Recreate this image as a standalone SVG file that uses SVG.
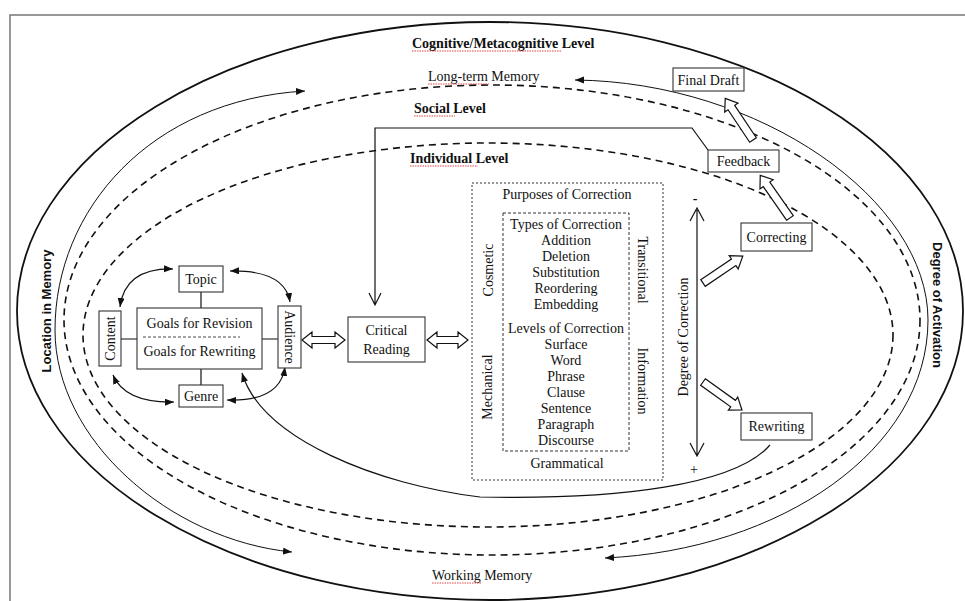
<svg xmlns="http://www.w3.org/2000/svg" width="965" height="601" viewBox="0 0 965 601">
<defs>
<style>
.t{font-family:"Liberation Serif","Times New Roman",serif;font-size:14px;fill:#111}
.b{font-weight:bold}
.s{font-family:"Liberation Sans",Arial,sans-serif;font-size:13px;font-weight:bold;fill:#111}
.m{text-anchor:middle}
.box{fill:#fff;stroke:#333;stroke-width:1.1}
.ln{fill:none;stroke:#111;stroke-width:1.2}
.thin{fill:none;stroke:#111;stroke-width:1}
.dash{fill:none;stroke:#111;stroke-width:1.6;stroke-dasharray:7,5}
.hol{fill:#fff;stroke:#111;stroke-width:1.2}
.sq{fill:none;stroke:#e03030;stroke-width:0.9;stroke-dasharray:1.5,1}
</style>
<marker id="tri" markerUnits="userSpaceOnUse" markerWidth="10" markerHeight="8" refX="9" refY="3.5" orient="auto-start-reverse">
<path d="M0,0 L9,3.5 L0,7 z" fill="#111"/>
</marker>
</defs>
<rect x="10" y="15" width="970" height="600" fill="none" stroke="#777" stroke-width="1.5"/>
<g id="levels">
<ellipse cx="490" cy="311" rx="473" ry="289" fill="none" stroke="#111" stroke-width="1.8"/>
<ellipse cx="492" cy="320" rx="428" ry="235" class="dash"/>
<ellipse cx="488" cy="335" rx="405" ry="192" class="dash"/>
</g>
<g id="labels">
<text class="t b" x="412" y="48">Cognitive/Metacognitive Level</text>
<path class="sq" d="M412,51 H561"/>
<text class="t" x="428" y="81">Long-term Memory</text>
<path class="sq" d="M428,84 H489"/>
<text class="t b" x="414" y="113">Social Level</text>
<path class="sq" d="M414,116 H455"/>
<text class="t b" x="410" y="163">Individual Level</text>
<path class="sq" d="M410,166 H478"/>
<text class="t" x="432" y="580">Working Memory</text>
<path class="sq" d="M432,583 H481"/>
<text class="s m" transform="translate(51,311) rotate(-90)">Location in Memory</text>
<text class="s m" transform="translate(933,305) rotate(90)">Degree of Activation</text>
</g>
<g id="connectors">
<path class="thin" d="M305,91 C150,100 55,210 55,330 C55,440 170,540 292,552" marker-start="url(#tri)" marker-end="url(#tri)"/>
<path class="thin" d="M575,80 C760,82 928,200 928,320 C928,450 780,550 605,558" marker-start="url(#tri)" marker-end="url(#tri)"/>
<path class="ln" d="M173,269 Q125,268 120,307" marker-start="url(#tri)" marker-end="url(#tri)"/>
<path class="ln" d="M230,271 Q285,270 290,302" marker-start="url(#tri)" marker-end="url(#tri)"/>
<path class="ln" d="M113,375 Q125,403 174,402" marker-start="url(#tri)" marker-end="url(#tri)"/>
<path class="ln" d="M227,400 Q280,402 285,367" marker-start="url(#tri)" marker-end="url(#tri)"/>
<path class="ln" d="M201,292 V308 M201,369 V385 M121,339 H137 M262,339 H278"/>
<path class="ln" d="M770,445 C735,485 620,500 480,497 C380,485 262,440 242,373" stroke-width="1.5" marker-end="url(#tri)"/>
<path class="ln" d="M708,150 L692,128 L375,128 L375,305 M369,293 L375,305 L381,293" stroke-width="1.5"/>
<path class="ln" d="M697,210 V455 M690,221 L697,208 L704,221 M690,443 L697,456 L704,443" stroke-width="2.6"/>
<polygon class="hol" points="302,340 312,332 312,336.5 335,336.5 335,332 345,340 335,348 335,343.5 312,343.5 312,348"/>
<polygon class="hol" points="427,340 437,332 437,336.5 458,336.5 458,332 468,340 458,348 458,343.5 437,343.5 437,348"/>
<polygon class="hol" points="0,-4 41,-4 41,-8 52,0 41,8 41,4 0,4" transform="translate(790,218) rotate(-124.9)"/>
<polygon class="hol" points="0,-4 39,-4 39,-8 50,0 39,8 39,4 0,4" transform="translate(753,140) rotate(-123.7)"/>
<polygon class="hol" points="0,-4 37,-4 37,-8 48,0 37,8 37,4 0,4" transform="translate(703,283) rotate(-34)"/>
<polygon class="hol" points="0,-4 37,-4 37,-8 48,0 37,8 37,4 0,4" transform="translate(703,382) rotate(35.7)"/>
</g>
<g id="topic"><rect class="box" x="179" y="266" width="44" height="26"/><text class="t m" x="201" y="284">Topic</text></g>
<g id="genre"><rect class="box" x="179" y="385" width="44" height="22"/><text class="t m" x="201" y="401">Genre</text></g>
<g id="content"><rect class="box" x="99" y="311" width="22" height="55"/><text class="t m" transform="translate(115,338.5) rotate(-90)">Content</text></g>
<g id="audience"><rect class="box" x="278" y="306" width="23" height="62"/><text class="t m" transform="translate(285,337) rotate(90)">Audience</text></g>
<g id="goals"><rect class="box" x="137" y="308" width="125" height="61"/>
<text class="t m" x="199.5" y="328">Goals for Revision</text>
<path d="M143,337 H240" fill="none" stroke="#333" stroke-width="0.9" stroke-dasharray="3,2"/>
<text class="t m" x="199.5" y="356">Goals for Rewriting</text></g>
<g id="critical-reading"><rect class="box" x="348" y="317" width="77" height="45"/>
<text class="t m" x="386.5" y="335">Critical</text><text class="t m" x="386.5" y="354">Reading</text></g>
<g id="purposes">
<rect x="472" y="183" width="191" height="297" fill="none" stroke="#333" stroke-width="1" stroke-dasharray="2,2"/>
<text class="t m" x="567" y="199">Purposes of Correction</text>
<text class="t m" transform="translate(493,270) rotate(-90)">Cosmetic</text>
<text class="t m" transform="translate(492,387) rotate(-90)">Mechanical</text>
<text class="t m" transform="translate(638,270) rotate(90)">Transitional</text>
<text class="t m" transform="translate(638,381) rotate(90)">Information</text>
<text class="t m" x="567" y="468">Grammatical</text>
</g>
<g id="types-levels">
<rect x="503" y="213" width="126" height="238" fill="none" stroke="#333" stroke-width="1" stroke-dasharray="3,2"/>
<text class="t m" x="566" y="229">Types of Correction</text>
<text class="t m" x="566" y="245">Addition</text>
<text class="t m" x="566" y="261">Deletion</text>
<text class="t m" x="566" y="277">Substitution</text>
<text class="t m" x="566" y="293">Reordering</text>
<text class="t m" x="566" y="309">Embedding</text>
<text class="t m" x="566" y="333">Levels of Correction</text>
<text class="t m" x="566" y="349">Surface</text>
<text class="t m" x="566" y="365">Word</text>
<text class="t m" x="566" y="381">Phrase</text>
<text class="t m" x="566" y="397">Clause</text>
<text class="t m" x="566" y="413">Sentence</text>
<text class="t m" x="566" y="429">Paragraph</text>
<text class="t m" x="566" y="445">Discourse</text>
</g>
<g id="degree-of-correction">
<text class="t m" transform="translate(688,337) rotate(-90)">Degree of Correction</text>
<text class="t b m" x="695" y="203" font-size="18">-</text>
<text class="t m" x="694" y="474" font-size="21">+</text>
</g>
<g id="final-draft"><rect class="box" x="673" y="68" width="71" height="23"/><text class="t m" x="708.5" y="84.5">Final Draft</text></g>
<g id="feedback"><rect class="box" x="708" y="150" width="71" height="22"/><text class="t m" x="743.5" y="166">Feedback</text></g>
<g id="correcting"><rect class="box" x="741" y="223" width="71" height="28"/><text class="t m" x="776.5" y="242">Correcting</text></g>
<g id="rewriting"><rect class="box" x="741" y="413" width="71" height="27"/><text class="t m" x="776.5" y="431">Rewriting</text></g>
</svg>
